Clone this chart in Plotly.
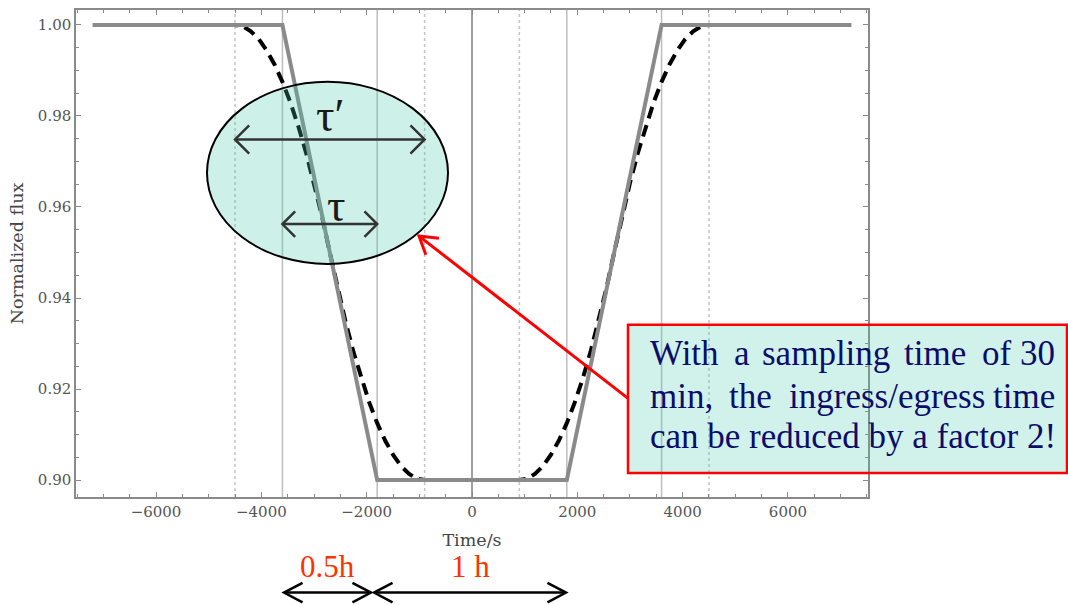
import math
import plotly.graph_objects as go

# Transit model: flat-bottomed light curve with linear ingress/egress (s, relative flux)
time_model = [-7200, -3600, -1800, 1800, 3600, 7200]
flux_model = [1.00, 1.00, 0.90, 0.90, 1.00, 1.00]

# Same transit as seen with 30-min integrations (smeared ingress/egress)
time_binned = [-7200,
               -4500, -4350, -4200, -4050, -3900, -3750, -3600, -3450, -3300,
               -3150, -3000, -2850, -2700, -2550, -2400, -2250, -2100, -1950,
               -1800, -1650, -1500, -1350, -1200, -1050, -900,
               900, 1050, 1200, 1350, 1500, 1650, 1800, 1950, 2100, 2250,
               2400, 2550, 2700, 2850, 3000, 3150, 3300, 3450, 3600, 3750,
               3900, 4050, 4200, 4350, 4500,
               7200]
flux_binned = [1.0000,
               1.0000, 0.9997, 0.9986, 0.9969, 0.9944, 0.9913, 0.9875, 0.9830, 0.9778,
               0.9719, 0.9653, 0.9580, 0.9500, 0.9420, 0.9347, 0.9281, 0.9222, 0.9170,
               0.9125, 0.9087, 0.9056, 0.9031, 0.9014, 0.9003, 0.9000,
               0.9000, 0.9003, 0.9014, 0.9031, 0.9056, 0.9087, 0.9125, 0.9170, 0.9222, 0.9281,
               0.9347, 0.9420, 0.9500, 0.9580, 0.9653, 0.9719, 0.9778, 0.9830, 0.9875, 0.9913,
               0.9944, 0.9969, 0.9986, 0.9997, 1.0000,
               1.0000]

# Contact times of the model and of the smeared curve
contact_times = [-3600, -1800, 1800, 3600]
binned_contact_times = [-4500, -900, 900, 4500]

x_ticks = [-6000, -4000, -2000, 0, 2000, 4000, 6000]
y_ticks = [0.90, 0.92, 0.94, 0.96, 0.98, 1.00]

x_range = [-7520, 7520]
y_range = [0.89628, 1.00328]

W, H = 1068, 605
ML, MR, MT, MB = 76, 200, 8, 108
PW, PH = W - ML - MR, H - MT - MB


def px(x):
    return (x - ML) / PW


def py(y):
    return (H - MB - y) / PH


def t_to_px(t):
    return ML + (t - x_range[0]) / (x_range[1] - x_range[0]) * PW


fig = go.Figure()

fig.add_trace(go.Scatter(x=time_binned, y=flux_binned, mode="lines",
                         line=dict(color="black", width=4, dash="12px,7px"),
                         hoverinfo="skip"))
fig.add_trace(go.Scatter(x=time_model, y=flux_model, mode="lines",
                         line=dict(color="#8a8a8a", width=4),
                         hoverinfo="skip"))

shapes = []
for t in contact_times:
    shapes.append(dict(type="line", xref="x", yref="paper", x0=t, x1=t, y0=0, y1=1,
                       line=dict(color="#bdbdbd", width=1.5), layer="below"))
for t in binned_contact_times:
    shapes.append(dict(type="line", xref="x", yref="paper", x0=t, x1=t, y0=0, y1=1,
                       line=dict(color="#c4c4c4", width=1.5, dash="dot"), layer="below"))


def seg(x0, y0, x1, y1, color, width):
    return dict(type="line", xref="paper", yref="paper",
                x0=px(x0), y0=py(y0), x1=px(x1), y1=py(y1),
                line=dict(color=color, width=width), layer="above")


def chevron(tip, tail, length, half_angle, color, width):
    dx, dy = tip[0] - tail[0], tip[1] - tail[1]
    n = math.hypot(dx, dy)
    bx, by = -dx / n, -dy / n
    pts = []
    for s in (1, -1):
        a = math.radians(half_angle) * s
        rx = bx * math.cos(a) - by * math.sin(a)
        ry = bx * math.sin(a) + by * math.cos(a)
        pts.append((tip[0] + rx * length, tip[1] + ry * length))
    path = "M{:.5f},{:.5f} L{:.5f},{:.5f} L{:.5f},{:.5f}".format(
        px(pts[0][0]), py(pts[0][1]), px(tip[0]), py(tip[1]), px(pts[1][0]), py(pts[1][1]))
    return dict(type="path", xref="paper", yref="paper", path=path,
                line=dict(color=color, width=width), layer="above")


def double_arrow(x0, x1, y, length, half_angle, color, width):
    return [seg(x0, y, x1, y, color, width),
            chevron((x0, y), (x1, y), length, half_angle, color, width),
            chevron((x1, y), (x0, y), length, half_angle, color, width)]


# Highlight ellipse around the ingress
shapes.append(dict(type="circle", xref="paper", yref="paper",
                   x0=px(207), x1=px(448), y0=py(263), y1=py(80),
                   fillcolor="rgba(70,205,175,0.27)",
                   line=dict(color="black", width=2), layer="above"))

# tau' spans the smeared ingress, tau the model ingress
y_tp = 138
shapes += double_arrow(t_to_px(binned_contact_times[0]), t_to_px(binned_contact_times[1]),
                       y_tp, 20, 45, "#333333", 2.5)
y_t = 223
shapes += double_arrow(t_to_px(contact_times[0]), t_to_px(contact_times[1]),
                       y_t, 18, 45, "#333333", 2.5)

# Red pointer from the note to the ellipse
shapes.append(seg(628, 398, 419, 235, "red", 3))
shapes.append(chevron((419, 235), (628, 398), 20, 32, "red", 3))

# Note box
shapes.append(dict(type="rect", xref="paper", yref="paper",
                   x0=px(628), x1=px(1067), y0=py(473), y1=py(324),
                   fillcolor="rgba(70,205,175,0.25)",
                   line=dict(color="red", width=2.5), layer="above"))

# Duration scale below the axis
shapes += double_arrow(284, 371, 593, 21, 28, "black", 2.5)
shapes += double_arrow(374, 566, 593, 21, 28, "black", 2.5)

annotations = []


def label(text, x, y, size, color, xanchor="center", family="Liberation Serif"):
    annotations.append(dict(text=text, x=px(x), y=py(y), xref="paper", yref="paper",
                            xanchor=xanchor, yanchor="middle", showarrow=False,
                            font=dict(family=family, size=size, color=color)))


label("τ′", 330, 114, 46, "#1a1a1a")
label("τ", 336, 204, 46, "#1a1a1a")

navy = "#0c0c6a"
line1 = [("With", 648), ("a", 732), ("sampling", 760), ("time", 902), ("of", 980)]
for w, x in line1:
    label(w, x, 353, 35, navy, xanchor="left")
label("30", 1057, 353, 35, navy, xanchor="right")
line2 = [("min,", 648), ("the", 727), ("ingress/egress", 787)]
for w, x in line2:
    label(w, x, 396, 35, navy, xanchor="left")
label("time", 1057, 396, 35, navy, xanchor="right")
label("can be reduced by a factor 2!", 648, 436, 35, navy, xanchor="left")

label("0.5h", 327, 567, 31, "#ff3300")
label("1 h", 470, 567, 31, "#ff3300")

fig.update_layout(
    width=W, height=H,
    margin=dict(l=ML, r=MR, t=MT, b=MB),
    paper_bgcolor="white", plot_bgcolor="white",
    showlegend=False,
    font=dict(family="DejaVu Serif", color="#555555"),
    shapes=shapes,
    annotations=annotations,
)

fig.update_xaxes(
    range=x_range, tickmode="array", tickvals=x_ticks,
    ticks="inside", ticklen=5, tickwidth=1, tickcolor="#8a8a8a",
    minor=dict(tickmode="linear", tick0=0, dtick=500, ticks="inside",
               ticklen=3, tickcolor="#8a8a8a"),
    showline=True, linecolor="#8a8a8a", linewidth=1.5, mirror="allticks",
    showgrid=False, zeroline=True, zerolinecolor="#a0a0a0", zerolinewidth=1.5,
    tickfont=dict(size=15, color="#555555"),
    title=dict(text="Time/s", font=dict(size=17.5, color="#444444"), standoff=14),
)
fig.update_yaxes(
    range=y_range, tickmode="array", tickvals=y_ticks, tickformat=".2f",
    ticks="inside", ticklen=5, tickwidth=1, tickcolor="#8a8a8a",
    minor=dict(tickmode="linear", tick0=0.9, dtick=0.005, ticks="inside",
               ticklen=3, tickcolor="#8a8a8a"),
    showline=True, linecolor="#8a8a8a", linewidth=1.5, mirror="allticks",
    showgrid=False, zeroline=False,
    tickfont=dict(size=15, color="#555555"),
    title=dict(text="Normalized flux", font=dict(size=17.5, color="#444444"), standoff=10),
)

fig.write_html("out.html")
